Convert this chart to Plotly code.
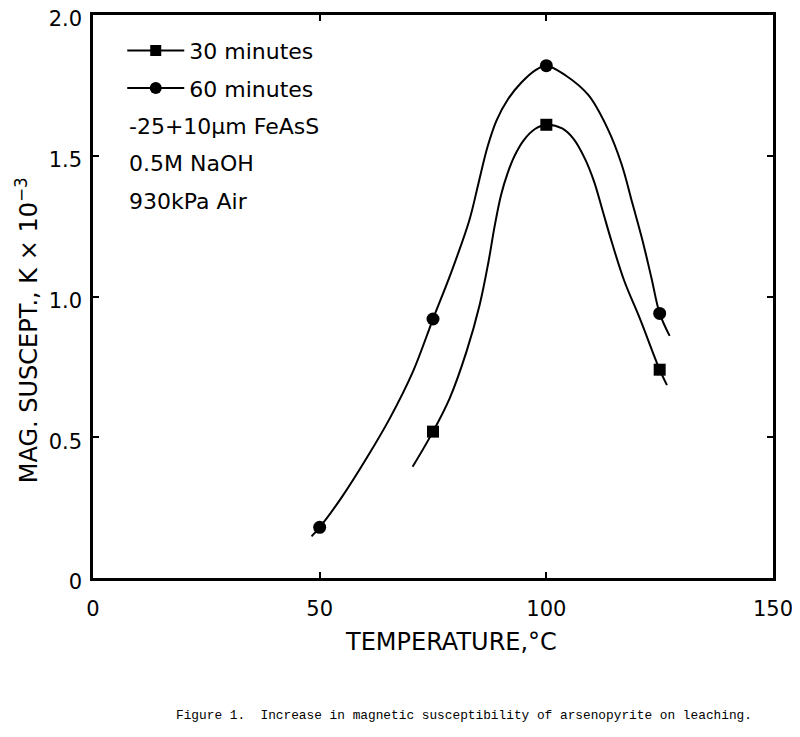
import plotly.graph_objects as go

# Measured points
temp_pts = [50, 75, 100, 125]
min60_pts = [0.18, 0.92, 1.82, 0.94]
temp_pts30 = [75, 100, 125]
min30_pts = [0.52, 1.61, 0.74]

# Hand-drawn curves
curve60_x = [48.2, 50.0, 55.0, 60.4, 65.5, 70.6, 75.0, 79.0, 83.0, 85.0, 87.0, 89.0,
             91.5, 94.5, 97.7, 100.0, 104.2, 109.3, 113.5, 116.6, 119.0, 121.2, 123.2,
             125.0, 127.2]
curve60_y = [0.148, 0.18, 0.29, 0.427, 0.568, 0.734, 0.92, 1.085, 1.27, 1.40, 1.53,
             1.625, 1.70, 1.76, 1.805, 1.82, 1.786, 1.715, 1.597, 1.47, 1.33, 1.20,
             1.065, 0.94, 0.86]
curve30_x = [70.5, 75.0, 78.7, 82.4, 85.3, 87.2, 88.6, 90.0, 91.5, 93.0, 95.0, 97.5,
             100.0, 103.5, 106.0, 108.5, 110.5, 112.5, 114.5, 117.2, 120.6, 125.0, 126.6]
curve30_y = [0.395, 0.52, 0.639, 0.805, 0.971, 1.12, 1.25, 1.36, 1.44, 1.50, 1.555,
             1.595, 1.61, 1.597, 1.56, 1.49, 1.41, 1.30, 1.19, 1.055, 0.923, 0.74, 0.685]

x_ticks = [0, 50, 100, 150]
y_ticks = [0, 0.5, 1.0, 1.5, 2.0]
y_ticktext = ["0", "0.5", "1.0", "1.5", "2.0"]

legend_names = ["30 minutes", "60 minutes"]
notes = ["-25+10μm FeAsS", "0.5M NaOH", "930kPa Air"]
caption = "Figure 1.  Increase in magnetic susceptibility of arsenopyrite on leaching."

FONT = "DejaVu Sans"
fig = go.Figure()

for cx, cy in [(curve60_x, curve60_y), (curve30_x, curve30_y)]:
    fig.add_trace(go.Scatter(x=cx, y=cy, mode="lines",
                             line=dict(color="black", width=2, shape="spline", smoothing=1.0),
                             showlegend=False, hoverinfo="skip"))
fig.add_trace(go.Scatter(x=temp_pts, y=min60_pts, mode="markers",
                         marker=dict(symbol="circle", size=13, color="black"),
                         showlegend=False))
fig.add_trace(go.Scatter(x=temp_pts30, y=min30_pts, mode="markers",
                         marker=dict(symbol="square", size=12, color="black"),
                         showlegend=False))
# legend entries
fig.add_trace(go.Scatter(x=[None], y=[None], mode="lines+markers", name=legend_names[0],
                         legendgroup="a",
                         line=dict(color="black", width=2),
                         marker=dict(symbol="square", size=11, color="black")))
fig.add_trace(go.Scatter(x=[None], y=[None], mode="lines+markers", name=legend_names[1],
                         legendgroup="b",
                         line=dict(color="black", width=2),
                         marker=dict(symbol="circle", size=12, color="black")))

ann = []
for i, t in enumerate(notes):
    ann.append(dict(text=t, xref="paper", yref="paper", x=0.05, y=0.8025 - i * 0.0665,
                    xanchor="left", yanchor="middle", showarrow=False,
                    font=dict(family=FONT, size=22, color="black")))
ann.append(dict(text="TEMPERATURE,°C", xref="paper", yref="paper", x=0.526, y=-0.114,
                xanchor="center", yanchor="middle", showarrow=False,
                font=dict(family=FONT, size=24, color="black")))
ann.append(dict(text="MAG. SUSCEPT., K × 10<sup>−3</sup>", xref="paper", yref="paper",
                x=-0.097, y=0.44, xanchor="center", yanchor="middle", showarrow=False,
                textangle=-90, font=dict(family=FONT, size=24, color="black")))
ann.append(dict(text=caption, xref="paper", yref="paper", x=0.119, y=-0.245,
                xanchor="left", yanchor="middle", showarrow=False,
                font=dict(family="Liberation Mono", size=12.8, color="black")))

fig.update_layout(
    width=800, height=737,
    margin=dict(l=85, r=35, t=7, b=167, autoexpand=False),
    paper_bgcolor="white", plot_bgcolor="white",
    annotations=ann,
    legend=dict(x=0.043, y=0.974, xanchor="left", yanchor="top",
                bgcolor="rgba(0,0,0,0)", font=dict(family=FONT, size=22, color="black"),
                itemwidth=57, tracegroupgap=6),
    xaxis=dict(range=[0, 150], tickvals=x_ticks, showgrid=False, zeroline=False,
               automargin=False, ticklabeloverflow="allow",
               showline=True, linecolor="black", linewidth=2.5, mirror="allticks",
               ticks="inside", ticklen=6, tickcolor="black", tickwidth=1.5,
               ticklabelstandoff=10,
               tickfont=dict(family=FONT, size=21, color="black")),
    yaxis=dict(range=[0, 2.0], tickvals=y_ticks, ticktext=y_ticktext, showgrid=False,
               automargin=False, ticklabeloverflow="allow",
               zeroline=False, showline=True, linecolor="black", linewidth=2.5,
               mirror="allticks", ticks="inside", ticklen=6, tickcolor="black",
               tickwidth=1.5, ticklabelstandoff=4, ticklabelshift=4,
               tickfont=dict(family=FONT, size=21, color="black")),
)

fig.write_html("out.html")
